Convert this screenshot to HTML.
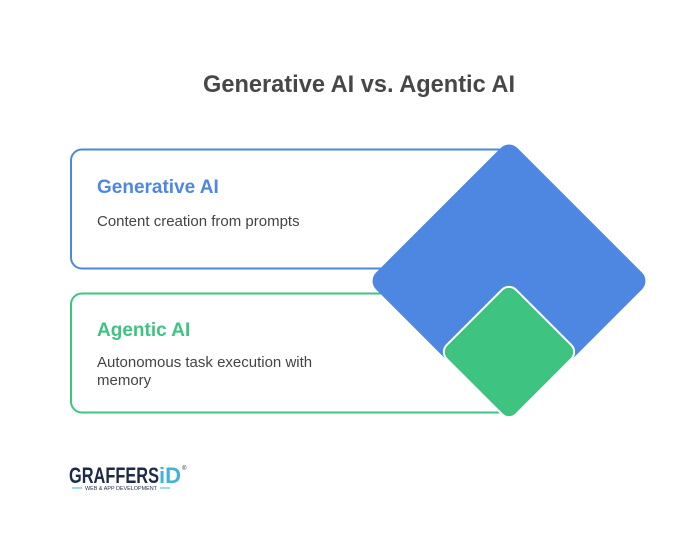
<!DOCTYPE html>
<html><head><meta charset="utf-8"><style>
html,body{margin:0;padding:0;background:#fff;}
svg{display:block;font-family:"Liberation Sans",sans-serif;}
</style></head><body>
<svg width="692" height="558" viewBox="0 0 692 558" xmlns="http://www.w3.org/2000/svg">
<rect width="692" height="558" fill="#fff"/>
<text x="359" y="92" text-anchor="middle" font-size="24" font-weight="bold" fill="#474747" textLength="312" lengthAdjust="spacingAndGlyphs">Generative AI vs. Agentic AI</text>
<rect x="71" y="149.5" width="438" height="119" rx="11" fill="#fff" stroke="#4e87e1" stroke-width="2"/>
<rect x="71" y="293.5" width="438" height="119" rx="11" fill="#fff" stroke="#3fc380" stroke-width="2"/>
<text x="97" y="193" font-size="19" font-weight="bold" fill="#4e87e1">Generative AI</text>
<text x="97" y="226" font-size="15" fill="#444">Content creation from prompts</text>
<text x="97" y="336" font-size="19" font-weight="bold" fill="#3fc380">Agentic AI</text>
<text x="97" y="367" font-size="15" fill="#444">Autonomous task execution with</text>
<text x="97" y="385" font-size="15" fill="#444">memory</text>
<g transform="translate(509 281) rotate(45)">
<rect x="-100" y="-100" width="200" height="200" rx="12" fill="#4e87e1"/>
</g>
<g transform="translate(509 352) rotate(45)">
<rect x="-49" y="-49" width="98" height="98" rx="10" fill="#3fc380" stroke="#fff" stroke-width="2"/>
</g>
<text x="69" y="483" font-size="22" font-weight="bold" fill="#1e2a4a" textLength="90" lengthAdjust="spacingAndGlyphs">GRAFFERS</text>
<text x="159" y="483" font-size="22" font-weight="bold" fill="#3fb3d8">iD</text>
<text x="182" y="470" font-size="6" fill="#1e2a4a">®</text>
<line x1="72" y1="488" x2="82" y2="488" stroke="#3fb3d8" stroke-width="1"/>
<line x1="160" y1="488" x2="170" y2="488" stroke="#3fb3d8" stroke-width="1"/>
<text x="121" y="490" font-size="5" text-anchor="middle" fill="#1e2a4a" textLength="72" lengthAdjust="spacingAndGlyphs">WEB &amp; APP DEVELOPMENT</text>
</svg>
</body></html>
